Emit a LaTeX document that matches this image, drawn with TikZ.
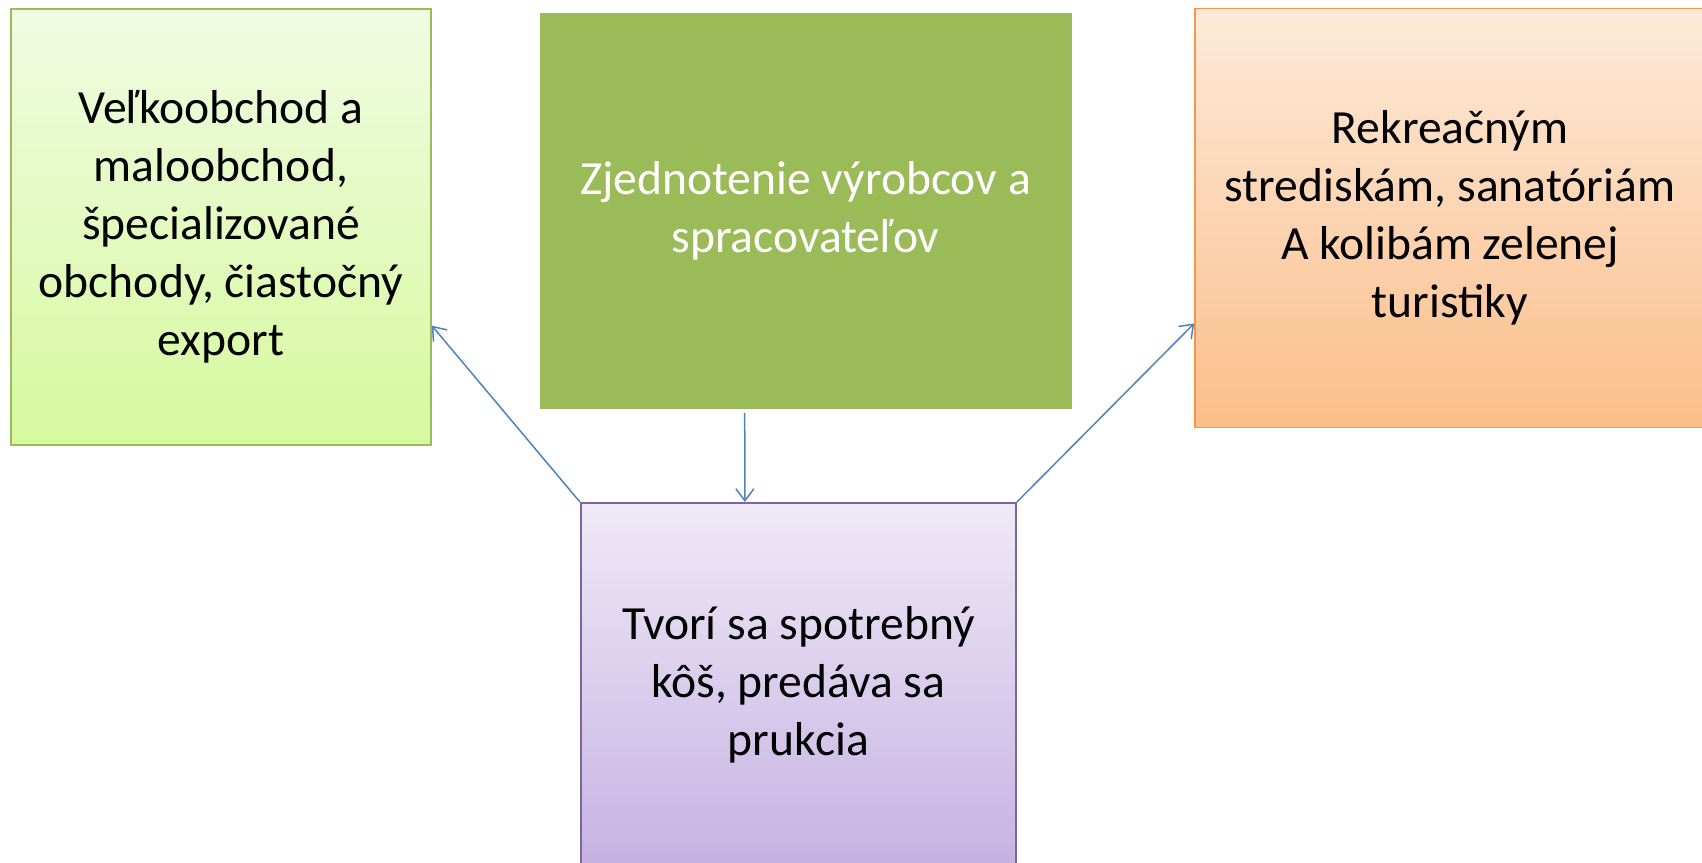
\documentclass[tikz,border=0pt]{standalone}
\usepackage{fontspec}
\setmainfont{Carlito}
\usetikzlibrary{arrows.meta,calc}
\definecolor{lgTop}{RGB}{241,251,226}
\definecolor{lgBot}{RGB}{214,249,158}
\definecolor{lgLine}{RGB}{155,187,89}
\definecolor{midGreen}{RGB}{155,187,89}
\definecolor{orTop}{RGB}{253,234,218}
\definecolor{orBot}{RGB}{251,190,138}
\definecolor{orLine}{RGB}{247,150,70}
\definecolor{puTop}{RGB}{239,233,247}
\definecolor{puBot}{RGB}{198,178,226}
\definecolor{puLine}{RGB}{128,100,162}
\definecolor{arrBlue}{RGB}{79,129,189}
\tikzset{
  boxbase/.style={rectangle, inner sep=0pt, align=center, line width=0.8pt,
    font=\fontsize{23.8}{29}\selectfont},
  arr/.style={draw=arrBlue, line width=0.75pt,
    -{Straight Barb[length=6pt,width=9pt,line width=0.75pt]}}
}
\begin{document}
\begin{tikzpicture}[x=0.5pt,y=-0.5pt]
\useasboundingbox (0,0) rectangle (1702,862);
\clip (0,0) rectangle (1702,862);
\node[boxbase, draw=lgLine, top color=lgTop, bottom color=lgBot,
  minimum width=210pt, minimum height=218pt] (l) at (221,227)
  {Veľkoobchod a\\maloobchod,\\špecializované\\obchody, čiastočný\\export};
\node[boxbase, fill=midGreen, text=white,
  minimum width=266pt, minimum height=198pt] (c) at (805.5,211)
  {Zjednotenie výrobcov a\\spracovateľov};
\node[boxbase, draw=orLine, top color=orTop, bottom color=orBot,
  minimum width=255pt, minimum height=209.5pt] (r) at (1450,218)
  {Rekreačným\\strediskám, sanatóriám\\A kolibám zelenej\\turistiky};
\node[boxbase, draw=puLine, top color=puTop, bottom color=puBot,
  minimum width=217.7pt, minimum height=182pt] (p) at (798.4,684.8)
  {Tvorí sa spotrebný\\kôš, predáva sa\\prukcia};
\draw[arr] ([xshift=103pt,yshift=-1.5pt]c.south west) -- ([xshift=82.5pt]p.north west);
\draw[arr] (p.north west) -- ([yshift=-49.3pt]l.east);
\draw[arr] (p.north east) -- ([yshift=-52.7pt]r.west);
\end{tikzpicture}
\end{document}
